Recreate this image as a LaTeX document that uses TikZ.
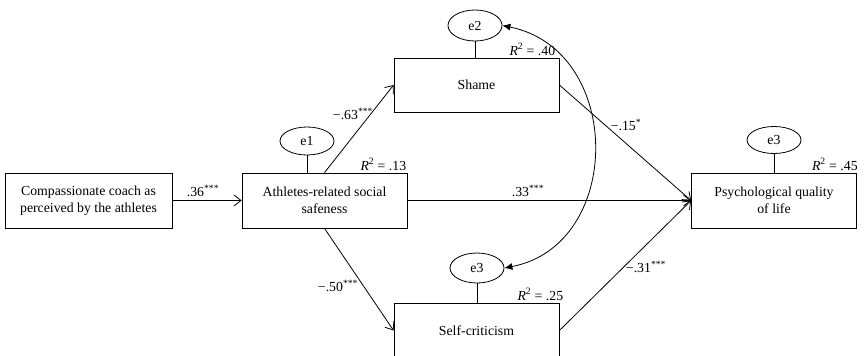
\documentclass[tikz,border=0pt]{standalone}
\usepackage{fontspec}
\setmainfont{Liberation Serif}
\usetikzlibrary{shapes.geometric,arrows.meta}
\begin{document}
\begin{tikzpicture}[x=1pt,y=-1pt,
  font=\fontsize{13.8}{17}\selectfont,
  varbox/.style={draw,line width=0.8pt,minimum width=165pt,minimum height=55pt,inner sep=0pt,align=center},
  errell/.style={draw,ellipse,line width=0.8pt,minimum width=54pt,minimum height=28pt,inner sep=0pt},
  lbl/.style={inner sep=0pt},
  rsq/.style={inner sep=0pt,anchor=south east},
  arr/.style={line width=0.8pt,-{Straight Barb[length=7pt,width=11pt]}},
  cov/.style={line width=0.8pt,{Latex[length=8pt,width=7pt]}-{Latex[length=8pt,width=7pt]}},
  link/.style={line width=0.8pt}
]
\useasboundingbox (0,0) rectangle (865,356);
% boxes
\node[varbox,minimum width=167pt] (coach) at (88.5,200.5) {Compassionate coach as\\perceived by the athletes};
\node[varbox] (safe) at (324.5,200.5) {Athletes-related social\\safeness};
\node[varbox,minimum height=54pt] (shame) at (476.5,85) {Shame};
\node[varbox] (selfc) at (476.5,330.5) {Self-criticism};
\node[varbox] (psych) at (774,200.5) {Psychological quality\\of life};
% error terms
\node[errell] (e1) at (307,141) {e1};
\node[errell,minimum height=31pt] (e2) at (475,25.5) {e2};
\node[errell,minimum height=30pt] (e3b) at (477,268) {e3};
\node[errell,minimum height=27pt] (e3a) at (774,140) {e3};
\draw[link] (e1.south) -- (e1.south |- safe.north);
\draw[link] (e2.south) -- (e2.south |- shame.north);
\draw[link] (e3b.south) -- (e3b.south |- selfc.north);
\draw[link] (e3a.south) -- (e3a.south |- psych.north);
% R squared
\node[rsq] (r1) at ([xshift=-1pt,yshift=2pt]safe.north east) {\textit{R}\textsuperscript{2} = .13};
\node[rsq] (r2) at ([xshift=-4pt,yshift=2pt]shame.north east) {\textit{R}\textsuperscript{2} = .40};
\node[rsq] (r3) at ([xshift=4pt,yshift=2pt]selfc.north east) {\textit{R}\textsuperscript{2} = .25};
\node[rsq] (r4) at ([xshift=1pt,yshift=2pt]psych.north east) {\textit{R}\textsuperscript{2} = .45};
% paths
\draw[arr] (coach.east) -- (safe.west);
\draw[arr] (safe.north) -- (shame.west);
\draw[arr] (safe.south) -- (selfc.west);
\draw[arr] (safe.east) -- (psych.west);
\draw[arr] (shame.east) -- (psych.west);
\draw[arr] (selfc.east) -- (psych.west);
\draw[cov] (e2.east) .. controls (624,50) and (624,245) .. (e3b.east);
% path labels
\node[lbl] (l36) at (203,191) {.36\textsuperscript{***}};
\node[lbl] (l63) at (353,114) {−.63\textsuperscript{***}};
\node[lbl] (l50) at (338,286) {−.50\textsuperscript{***}};
\node[lbl] (l33) at (528,191) {.33\textsuperscript{***}};
\node[lbl] (l15) at (626,125) {−.15\textsuperscript{*}};
\node[lbl] (l31) at (646,267) {−.31\textsuperscript{***}};
\end{tikzpicture}
\end{document}
